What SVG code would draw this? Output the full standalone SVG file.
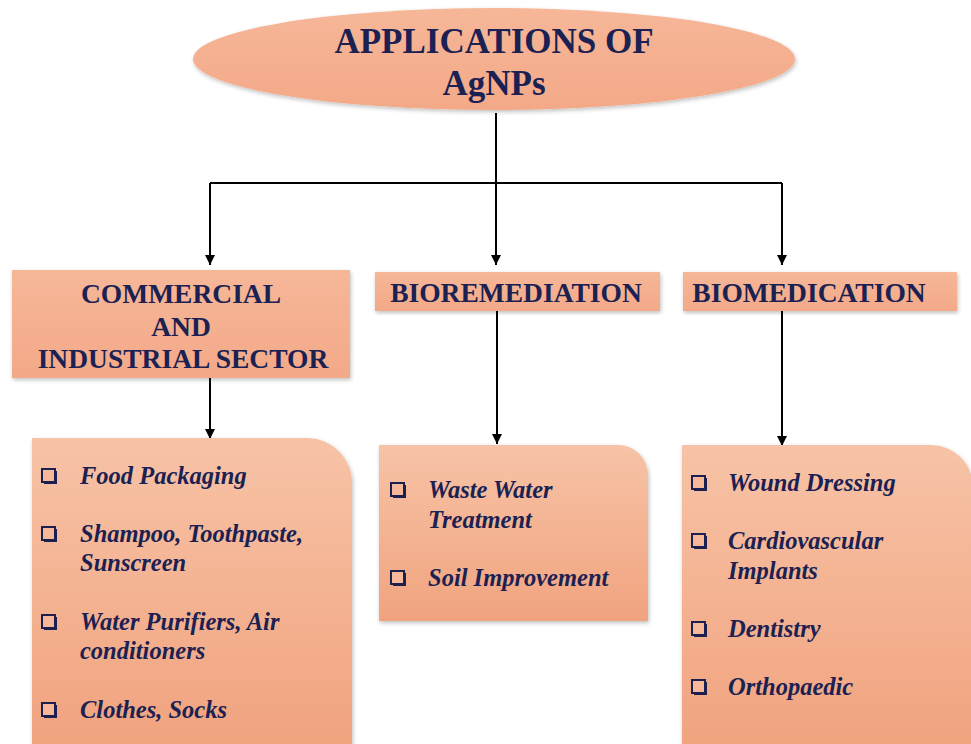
<svg xmlns="http://www.w3.org/2000/svg" width="971" height="744" viewBox="0 0 971 744">
  <defs>
    <linearGradient id="boxFill" x1="0" y1="0" x2="0" y2="1">
      <stop offset="0" stop-color="#f7c3a6"/>
      <stop offset="1" stop-color="#f1a37f"/>
    </linearGradient>
    <linearGradient id="headFill" x1="0" y1="0" x2="0" y2="1">
      <stop offset="0" stop-color="#f6b798"/>
      <stop offset="1" stop-color="#f3a988"/>
    </linearGradient>
    <filter id="soft" x="-10%" y="-10%" width="120%" height="120%">
      <feGaussianBlur in="SourceAlpha" stdDeviation="2"/>
      <feOffset dx="1" dy="2"/>
      <feComponentTransfer><feFuncA type="linear" slope="0.25"/></feComponentTransfer>
      <feMerge><feMergeNode/><feMergeNode in="SourceGraphic"/></feMerge>
    </filter>
    <marker id="arrow" viewBox="0 0 10 10" refX="10" refY="5" markerWidth="10" markerHeight="10" markerUnits="userSpaceOnUse" orient="auto">
      <path d="M0,0 L10,5 L0,10 z" fill="#000"/>
    </marker>
    <g id="bullet">
      <rect x="2" y="2" width="13" height="13" fill="#1c2050"/>
      <rect x="0" y="0" width="13" height="13" fill="#f6b898" stroke="#1c2050" stroke-width="2"/>
    </g>
  </defs>

  <rect width="971" height="744" fill="#ffffff"/>

  <!-- connectors: trunk, bus and drop arrows -->
  <g id="connectors" fill="none" stroke="#000" stroke-width="2">
    <path d="M496,113 V183"/>
    <path d="M210,183 H782"/>
    <path d="M210,183 V265" marker-end="url(#arrow)"/>
    <path d="M496,183 V265" marker-end="url(#arrow)"/>
    <path d="M782,183 V265" marker-end="url(#arrow)"/>
    <path d="M210,378 V439" marker-end="url(#arrow)"/>
    <path d="M497,311 V444" marker-end="url(#arrow)"/>
    <path d="M782,311 V446" marker-end="url(#arrow)"/>
  </g>

  <!-- root -->
  <g id="root">
    <ellipse cx="494" cy="59" rx="301" ry="51" fill="url(#headFill)" filter="url(#soft)"/>
    <g font-family="Liberation Serif" font-weight="bold" font-size="35" fill="#1b2152" text-anchor="middle">
      <text x="494" y="53">APPLICATIONS OF</text>
      <text x="494" y="95">AgNPs</text>
    </g>
  </g>

  <!-- category headers -->
  <g id="commercial">
    <rect x="12" y="270" width="338" height="108" fill="url(#headFill)" filter="url(#soft)"/>
    <g font-family="Liberation Serif" font-weight="bold" font-size="27.5" fill="#1b2152" text-anchor="middle">
      <text x="181" y="303">COMMERCIAL</text>
      <text x="181" y="336">AND</text>
      <text x="183" y="368">INDUSTRIAL SECTOR</text>
    </g>
  </g>
  <g id="bioremediation">
    <rect x="375" y="272" width="285" height="39" fill="url(#headFill)" filter="url(#soft)"/>
    <text x="516" y="302" font-family="Liberation Serif" font-weight="bold" font-size="27.5" fill="#1b2152" text-anchor="middle">BIOREMEDIATION</text>
  </g>
  <g id="biomedication">
    <rect x="683" y="272" width="274" height="39" fill="url(#headFill)" filter="url(#soft)"/>
    <text x="809" y="302" font-family="Liberation Serif" font-weight="bold" font-size="27.5" fill="#1b2152" text-anchor="middle">BIOMEDICATION</text>
  </g>

  <!-- application lists -->
  <g id="commercial-list">
    <path d="M32,438 H307 A45,45 0 0 1 352,483 V744 H32 Z" fill="url(#boxFill)" filter="url(#soft)"/>
    <use href="#bullet" x="42" y="469"/>
    <use href="#bullet" x="42" y="527"/>
    <use href="#bullet" x="42" y="615"/>
    <use href="#bullet" x="42" y="703"/>
    <g font-family="Liberation Serif" font-weight="bold" font-style="italic" font-size="24.5" fill="#1b2152">
      <text x="80" y="484">Food Packaging</text>
      <text x="80" y="542">Shampoo, Toothpaste,</text>
      <text x="80" y="571">Sunscreen</text>
      <text x="80" y="630">Water Purifiers, Air</text>
      <text x="80" y="659">conditioners</text>
      <text x="80" y="718">Clothes, Socks</text>
    </g>
  </g>

  <g id="bioremediation-list">
    <path d="M379,445 H618 A30,30 0 0 1 648,475 V621 H379 Z" fill="url(#boxFill)" filter="url(#soft)"/>
    <use href="#bullet" x="391" y="483"/>
    <use href="#bullet" x="391" y="571"/>
    <g font-family="Liberation Serif" font-weight="bold" font-style="italic" font-size="24.5" fill="#1b2152">
      <text x="428" y="498">Waste Water</text>
      <text x="428" y="528">Treatment</text>
      <text x="428" y="586">Soil Improvement</text>
    </g>
  </g>

  <g id="biomedication-list">
    <path d="M682,445 H931 A42,42 0 0 1 973,487 V746 H682 Z" fill="url(#boxFill)" filter="url(#soft)"/>
    <use href="#bullet" x="692" y="476"/>
    <use href="#bullet" x="692" y="534"/>
    <use href="#bullet" x="692" y="622"/>
    <use href="#bullet" x="692" y="680"/>
    <g font-family="Liberation Serif" font-weight="bold" font-style="italic" font-size="24.5" fill="#1b2152">
      <text x="728" y="491">Wound Dressing</text>
      <text x="728" y="549">Cardiovascular</text>
      <text x="728" y="579">Implants</text>
      <text x="728" y="637">Dentistry</text>
      <text x="728" y="695">Orthopaedic</text>
    </g>
  </g>
</svg>
